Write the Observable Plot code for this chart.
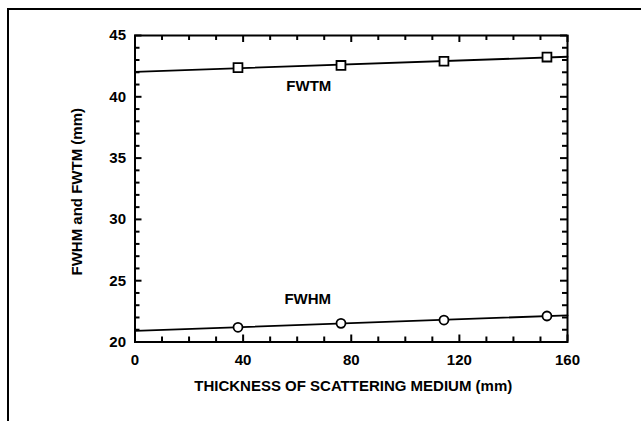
<!DOCTYPE html>
<html>
<head>
<meta charset="utf-8">
<script src="https://cdn.jsdelivr.net/npm/d3@7"></script>
<script src="https://cdn.jsdelivr.net/npm/@observablehq/plot@0.6"></script>
<style>
  html, body { margin: 0; padding: 0; background: #fff; }
  #chart svg { display: block; }
</style>
</head>
<body>
<div id="chart"></div>
<script>
// Data
const thickness = [38.1, 76.2, 114.3, 152.4];      // mm
const fwtm = [42.38, 42.56, 42.9, 43.24];           // mm
const fwhm = [21.2, 21.52, 21.79, 22.12];           // mm
const xMajorTicks = [0, 40, 80, 120, 160];
const yMajorTicks = [20, 25, 30, 35, 40, 45];
const seriesLabels = [
  {name: "FWTM", x: 64.3, y: 40.85},
  {name: "FWHM", x: 63.9, y: 23.5}
];
const xLabel = "THICKNESS OF SCATTERING MEDIUM (mm)";
const yLabel = "FWHM and FWTM (mm)";

const xMinorTicks = d3.range(0, 161, 10).filter(v => !xMajorTicks.includes(v));
const yMinorTicks = d3.range(20, 46, 1).filter(v => !yMajorTicks.includes(v));

// least-squares fit lines from the data, drawn across the full x domain
function fit(xs, ys) {
  const mx = d3.mean(xs), my = d3.mean(ys);
  const b = d3.sum(xs, (x, i) => (x - mx) * (ys[i] - my)) / d3.sum(xs, x => (x - mx) ** 2);
  const a = my - b * mx;
  return [0, 160].map(x => ({x, y: a + b * x}));
}
const fwtmPts = thickness.map((x, i) => ({x, y: fwtm[i]}));
const fwhmPts = thickness.map((x, i) => ({x, y: fwhm[i]}));
const fwtmFit = fit(thickness, fwtm);
const fwhmFit = fit(thickness, fwhm);

const W = 641, H = 421, ML = 134.5, MR = 74, MT = 35, MB = 79.5;
const FW = W - ML - MR, FH = H - MT - MB;
const XD = [0, 160], YD = [20, 45];
// tick lengths in pixels (measured from the frame line), converted to data units
const MAJ = 7, MIN = 5;
const ux = (XD[1] - XD[0]) / FW, uy = (YD[1] - YD[0]) / FH;

const xTicks = [
  ...xMinorTicks.map(v => ({v, len: MIN})),
  ...xMajorTicks.map(v => ({v, len: MAJ}))
];
const yTicks = [
  ...yMinorTicks.map(v => ({v, len: MIN})),
  ...yMajorTicks.map(v => ({v, len: MAJ}))
];
const tk = {stroke: "#000", strokeWidth: 2};

const font = "'Liberation Sans', Arial, Helvetica, sans-serif";

const plot = Plot.plot({
  width: W,
  height: H,
  marginLeft: ML,
  marginRight: MR,
  marginTop: MT,
  marginBottom: MB,
  style: {fontFamily: font, fontWeight: "bold", fontSize: "15px", color: "#000", background: "#fff"},
  x: {domain: XD},
  y: {domain: YD},
  marks: [
    // inward ticks on all four sides
    Plot.ruleX(xTicks, {x: "v", y1: () => YD[0], y2: d => YD[0] + d.len * uy, ...tk}),
    Plot.ruleX(xTicks, {x: "v", y1: () => YD[1], y2: d => YD[1] - d.len * uy, ...tk}),
    Plot.ruleY(yTicks, {y: "v", x1: () => XD[0], x2: d => XD[0] + d.len * ux, ...tk}),
    Plot.ruleY(yTicks, {y: "v", x1: () => XD[1], x2: d => XD[1] - d.len * ux, ...tk}),
    Plot.frame({stroke: "#000", fill: "none", strokeWidth: 2}),
    // tick labels
    Plot.axisX(xMajorTicks, {anchor: "bottom", tickSize: 0, tickPadding: 12, label: null, fontSize: 15, fontWeight: "bold"}),
    Plot.axisY(yMajorTicks, {anchor: "left", tickSize: 0, tickPadding: 9, label: null, fontSize: 15, fontWeight: "bold"}),
    // fit lines
    Plot.line(fwtmFit, {x: "x", y: "y", stroke: "#000", strokeWidth: 1.8}),
    Plot.line(fwhmFit, {x: "x", y: "y", stroke: "#000", strokeWidth: 1.8}),
    // markers
    Plot.dot(fwtmPts, {x: "x", y: "y", symbol: "square", r: 5, stroke: "#000", fill: "#fff", strokeWidth: 1.8}),
    Plot.dot(fwhmPts, {x: "x", y: "y", symbol: "circle", r: 4.5, stroke: "#000", fill: "#fff", strokeWidth: 1.8}),
    // series labels
    Plot.text(seriesLabels, {x: "x", y: "y", text: "name", fontSize: 15, fontWeight: "bold", fill: "#000"}),
    // axis titles
    Plot.text([xLabel], {frameAnchor: "bottom", textAnchor: "middle", lineAnchor: "middle", dy: 44.5, dx: 2, text: d => d, fontSize: 15, fontWeight: "bold", fill: "#000"}),
    Plot.text([yLabel], {frameAnchor: "left", textAnchor: "middle", lineAnchor: "middle", dx: -58, dy: 3, rotate: -90, text: d => d, fontSize: 15, fontWeight: "bold", fill: "#000"})
  ]
});

// outer figure border (top and left edges as in the scan)
d3.select(plot).append("path")
  .attr("d", "M8,421V9H641")
  .attr("fill", "none")
  .attr("stroke", "#000")
  .attr("stroke-width", 2);

document.getElementById("chart").appendChild(plot);
</script>
</body>
</html>
